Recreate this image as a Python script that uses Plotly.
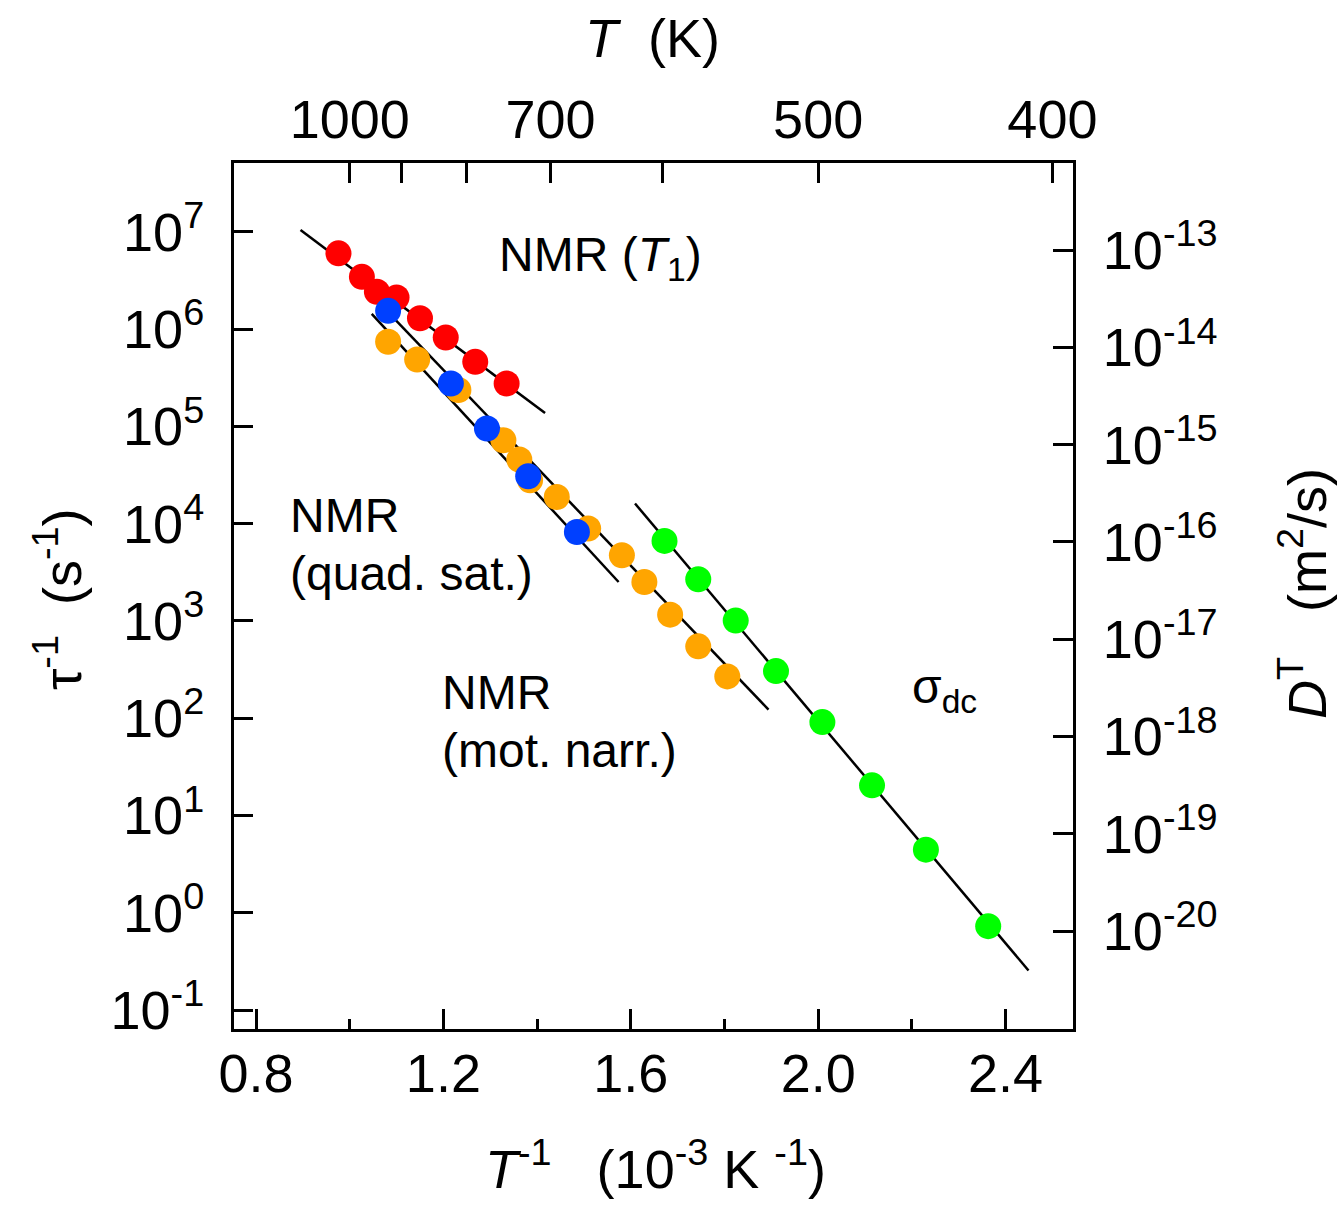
import plotly.graph_objects as go

# ---------------- data ----------------
# x : inverse temperature T^-1 in 10^-3 K^-1 ; y : tau^-1 in s^-1
t1_x = [0.976, 1.026, 1.058, 1.100, 1.150, 1.205, 1.268, 1.335]
t1_y = [6.0e6, 3.44e6, 2.42e6, 2.11e6, 1.29e6, 8.2e5, 4.6e5, 2.76e5]

quad_x = [1.082, 1.216, 1.293, 1.381, 1.485]
quad_y = [1.54e6, 2.76e5, 9.5e4, 3.07e4, 8.2e3]

narr_x = [1.082, 1.144, 1.232, 1.328, 1.362, 1.385, 1.442, 1.509, 1.581, 1.629, 1.684, 1.744, 1.806]
narr_y = [7.4e5, 4.87e5, 2.36e5, 7.2e4, 4.56e4, 2.79e4, 1.88e4, 8.9e3, 4.73e3, 2.51e3, 1.16e3, 548, 269]

sigma_x = [1.672, 1.744, 1.824, 1.910, 2.009, 2.115, 2.230, 2.363]
sigma_y = [6.64e3, 2.68e3, 1.01e3, 305, 91.2, 20.4, 4.45, 0.728]

# fit lines (end points)
fit_t1_x = [0.895, 1.417]
fit_t1_y = [1.04e7, 1.37e5]
fit_quad_x = [1.047, 1.574]
fit_quad_y = [1.43e6, 2.51e3]
fit_narr_x = [1.090, 1.894]
fit_narr_y = [1.36e6, 122.5]
fit_sigma_x = [1.609, 2.449]
fit_sigma_y = [1.61e4, 0.255]

# axes ticks
x_ticks = [0.8, 1.2, 1.6, 2.0, 2.4]
x_minor = [1.0, 1.4, 1.8, 2.2]
T_ticks = [1000, 900, 800, 700, 600, 500, 400]
T_labels = ["1000", "", "", "700", "", "500", "400"]
y_exp = [-1, 0, 1, 2, 3, 4, 5, 6, 7]
d_exp = [-20, -19, -18, -17, -16, -15, -14, -13]

# ---------------- layout constants ----------------
W, H = 1337, 1205
L, R, T, B = 234, 1073, 163, 1029
FONT = "Liberation Sans, Arial, sans-serif"
TICKF = 54
TXTF = 48
LW = 3

x_range = [0.753, 2.544]
y_range = [-1.195, 7.707]
offset = 19.812
d_range = [y_range[0] - offset, y_range[1] - offset]

def px(xp):
    return (xp - L) / (R - L)

def py(yp):
    return (B - yp) / (B - T)

fig = go.Figure()

line_style = dict(color="black", width=2.5)
for fx, fy in [(fit_t1_x, fit_t1_y), (fit_quad_x, fit_quad_y),
               (fit_narr_x, fit_narr_y), (fit_sigma_x, fit_sigma_y)]:
    fig.add_trace(go.Scatter(x=fx, y=fy, mode="lines", line=line_style,
                             showlegend=False, hoverinfo="skip"))

MS = 26
for xs, ys, col in [(t1_x, t1_y, "#ff0000"), (narr_x, narr_y, "#ffa500"),
                    (quad_x, quad_y, "#0040ff"), (sigma_x, sigma_y, "#00ff00")]:
    fig.add_trace(go.Scatter(x=xs, y=ys, mode="markers",
                             marker=dict(size=MS, color=col, line=dict(width=0)),
                             showlegend=False))

# dummy trace to establish the secondary (top / right) axes
fig.add_trace(go.Scatter(x=[1000 / t for t in T_ticks],
                         y=[10.0 ** e for e in d_exp[:len(T_ticks)]],
                         xaxis="x2", yaxis="y2", mode="markers",
                         marker=dict(opacity=0), showlegend=False,
                         hoverinfo="skip"))

tickfont = dict(family=FONT, size=TICKF, color="black")
common = dict(showline=True, linecolor="black", linewidth=LW, ticks="inside",
              tickwidth=LW, tickcolor="black", showgrid=False, zeroline=False,
              tickfont=tickfont)

fig.update_layout(
    width=W, height=H,
    margin=dict(l=L, r=W - R, t=T, b=H - B, pad=0),
    paper_bgcolor="white", plot_bgcolor="white",
    font=dict(family=FONT, color="black"),
    xaxis=dict(range=x_range, tickmode="array", tickvals=x_ticks,
               ticktext=["%.1f" % v for v in x_ticks], ticklen=20,
               ticklabelstandoff=-5,
               minor=dict(tickvals=x_minor, ticks="inside", ticklen=10,
                          tickwidth=LW, tickcolor="black", showgrid=False),
               **common),
    xaxis2=dict(range=x_range, overlaying="x", side="top", anchor="y2",
                tickmode="array", tickvals=[1000 / t for t in T_ticks],
                ticktext=T_labels, ticklen=20, ticklabelstandoff=0, **common),
    yaxis=dict(type="log", range=y_range, tickmode="array",
               tickvals=[10.0 ** e for e in y_exp],
               ticktext=["10<sup>%d</sup>" % e for e in y_exp],
               ticklen=19, ticklabelstandoff=16, **common),
    yaxis2=dict(type="log", range=d_range, overlaying="y", side="right",
                anchor="x2", tickmode="array",
                tickvals=[10.0 ** e for e in d_exp],
                ticktext=["10<sup>%d</sup>" % e for e in d_exp],
                ticklen=20, ticklabelstandoff=16, **common),
)

ann_font = dict(family=FONT, size=TXTF, color="black")
title_font = dict(family=FONT, size=54, color="black")
NB = "\u00a0"
annotations = [
    dict(text="NMR (<i>T</i><sub>1</sub>)", x=px(497), y=py(258), xanchor="left", yanchor="middle", font=ann_font),
    dict(text="NMR", x=px(288), y=py(515), xanchor="left", yanchor="middle", font=ann_font),
    dict(text="(quad. sat.)", x=px(288), y=py(573), xanchor="left", yanchor="middle", font=ann_font),
    dict(text="NMR", x=px(440), y=py(692), xanchor="left", yanchor="middle", font=ann_font),
    dict(text="(mot. narr.)", x=px(440), y=py(750), xanchor="left", yanchor="middle", font=ann_font),
    dict(text="\u03c3<sub>dc</sub>", x=px(910), y=py(690), xanchor="left", yanchor="middle", font=ann_font),
    dict(text="<i>T</i>" + NB + NB + "(K)", x=px(652), y=py(38), xanchor="center", yanchor="middle", font=title_font),
    dict(text="<i>T</i><sup>-1</sup>" + NB + NB + NB + "(10<sup>-3</sup>" + NB + "K" + NB + "<sup>-1</sup>)",
         x=px(655), y=py(1165), xanchor="center", yanchor="middle", font=title_font),
    dict(text="\u03c4<sup>-1</sup>" + NB + NB + "(s<sup>-1</sup>)", x=px(58), y=py(599),
         xanchor="center", yanchor="middle", textangle=-90, font=title_font),
    dict(text="<i>D</i><sup>T</sup>" + NB + NB + NB + "(m<sup>2</sup>/s)", x=px(1303), y=py(594),
         xanchor="center", yanchor="middle", textangle=-90, font=title_font),
]
for a in annotations:
    a.update(xref="paper", yref="paper", showarrow=False)
fig.update_layout(annotations=annotations)

fig.write_html("out.html", config={"displayModeBar": False},
               post_script="document.body.style.margin='0px';")
